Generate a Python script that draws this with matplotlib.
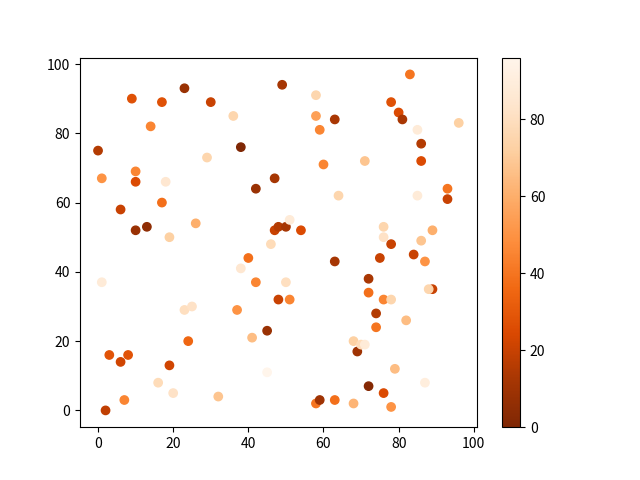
import matplotlib
matplotlib.use("Agg")
import matplotlib.pyplot as plt

plt.rcParams['font.family'] = ['Noto Sans CJK SC', 'DejaVu Sans']

x = [0, 1, 1, 2, 3, 6, 6, 7, 8, 9,
     10, 10, 10, 13, 14, 16, 17, 17, 18, 19,
     19, 20, 23, 23, 24, 25, 26, 29, 30, 32,
     36, 37, 38, 38, 40, 41, 42, 42, 45, 45,
     46, 47, 47, 48, 48, 49, 50, 50, 51, 51,
     54, 58, 58, 59, 58, 59, 60, 63, 63, 63,
     64, 68, 68, 69, 70, 71, 71, 72, 72, 72,
     74, 74, 75, 76, 76, 76, 76, 78, 78, 78,
     78, 79, 80, 81, 82, 83, 84, 85, 85, 86,
     86, 86, 87, 87, 89, 88, 89, 93, 93, 96]
y = [75, 67, 37, 0, 16, 58, 14, 3, 16, 90,
     69, 66, 52, 53, 82, 8, 60, 89, 66, 13,
     50, 5, 93, 29, 20, 30, 54, 73, 89, 4,
     85, 29, 76, 41, 44, 21, 64, 37, 11, 23,
     48, 67, 52, 53, 32, 94, 53, 37, 55, 32,
     52, 91, 85, 81, 2, 3, 71, 84, 43, 3,
     62, 20, 2, 17, 19, 72, 19, 38, 34, 7,
     28, 24, 44, 32, 53, 50, 5, 32, 48, 89,
     1, 12, 86, 84, 26, 97, 45, 81, 62, 77,
     72, 49, 43, 8, 35, 35, 52, 64, 61, 83]
c = [15, 50, 88, 18, 28, 20, 22, 45, 28, 27,
     45, 25, 8, 5, 45, 78, 38, 27, 85, 22,
     72, 82, 8, 80, 35, 82, 60, 75, 20, 68,
     75, 50, 0, 85, 38, 65, 8, 45, 96, 8,
     78, 12, 20, 15, 20, 12, 12, 80, 88, 45,
     25, 75, 55, 45, 40, 10, 45, 13, 12, 38,
     75, 72, 62, 10, 78, 68, 88, 13, 38, 2,
     15, 40, 20, 45, 75, 82, 25, 75, 20, 27,
     50, 65, 25, 13, 65, 40, 20, 88, 88, 15,
     25, 68, 50, 90, 20, 75, 60, 40, 20, 72]

fig, ax = plt.subplots(figsize=(6.4, 4.8), dpi=100)
sc = ax.scatter(x, y, c=c, cmap="Oranges_r")
fig.colorbar(sc, ax=ax)
fig.savefig("out.png")
